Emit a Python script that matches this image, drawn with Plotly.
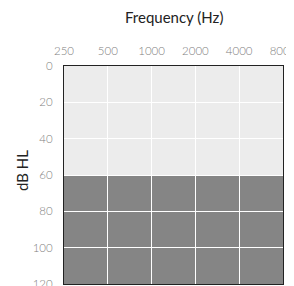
import math
import plotly.graph_objects as go

freq_ticks = [250, 500, 1000, 2000, 4000, 8000]
freq_labels = ["250", "500", "1000", "2000", "4000", "8000"]
db_ticks = [0, 20, 40, 60, 80, 100, 120]
band_ranges = [(0, 60), (60, 120)]
band_colors = ["#ececec", "#858585"]
x_title = "Frequency (Hz)"
y_title = "dB HL"

fig = go.Figure()
fig.add_trace(go.Scatter(x=[freq_ticks[0], freq_ticks[-1]], y=[db_ticks[0], db_ticks[-1]],
                         mode="markers", marker=dict(opacity=0), hoverinfo="skip", showlegend=False))

for (y0, y1), c in zip(band_ranges, band_colors):
    fig.add_shape(type="rect", xref="paper", yref="y", x0=0, x1=1, y0=y0, y1=y1,
                  fillcolor=c, line=dict(width=0), layer="below")

tick_font = dict(family="Lato", size=11.5, color="#808080", weight=300)
title_font = dict(family="Lato", size=15, color="#222222")
fig.update_layout(
    width=286, height=278,
    margin=dict(l=56, r=11, t=58, b=2),
    paper_bgcolor="white", plot_bgcolor="white",
    showlegend=False,
    font=dict(family="Lato", size=13, color="#333333"),
)
fig.add_annotation(text=x_title, xref="paper", yref="paper", x=0.5, y=1,
                   xanchor="center", yanchor="middle", yshift=49, showarrow=False,
                   borderpad=0, font=title_font)
fig.add_annotation(text=y_title, xref="paper", yref="paper", x=0, y=0.5,
                   xanchor="center", yanchor="middle", xshift=-42, yshift=4,
                   textangle=-90, showarrow=False, font=title_font)
fig.update_xaxes(
    type="log", side="top",
    range=[math.log10(freq_ticks[0]), math.log10(freq_ticks[-1])],
    tickvals=freq_ticks, ticktext=freq_labels, tickfont=tick_font,
    showgrid=True, gridcolor="white", gridwidth=1,
    showline=True, linecolor="#222222", linewidth=1, mirror=True,
    ticks="outside", ticklen=5, tickcolor="rgba(0,0,0,0)",
    ticklabeloverflow="allow", automargin=False, zeroline=False,
)
fig.update_yaxes(
    range=[db_ticks[-1], db_ticks[0]], tickvals=db_ticks, tickfont=tick_font,
    showgrid=True, gridcolor="white", gridwidth=1,
    showline=True, linecolor="#222222", linewidth=1, mirror=True,
    ticks="outside", ticklen=8, tickcolor="rgba(0,0,0,0)",
    ticklabeloverflow="allow", automargin=False, zeroline=False,
)
fig.write_html("out.html")
